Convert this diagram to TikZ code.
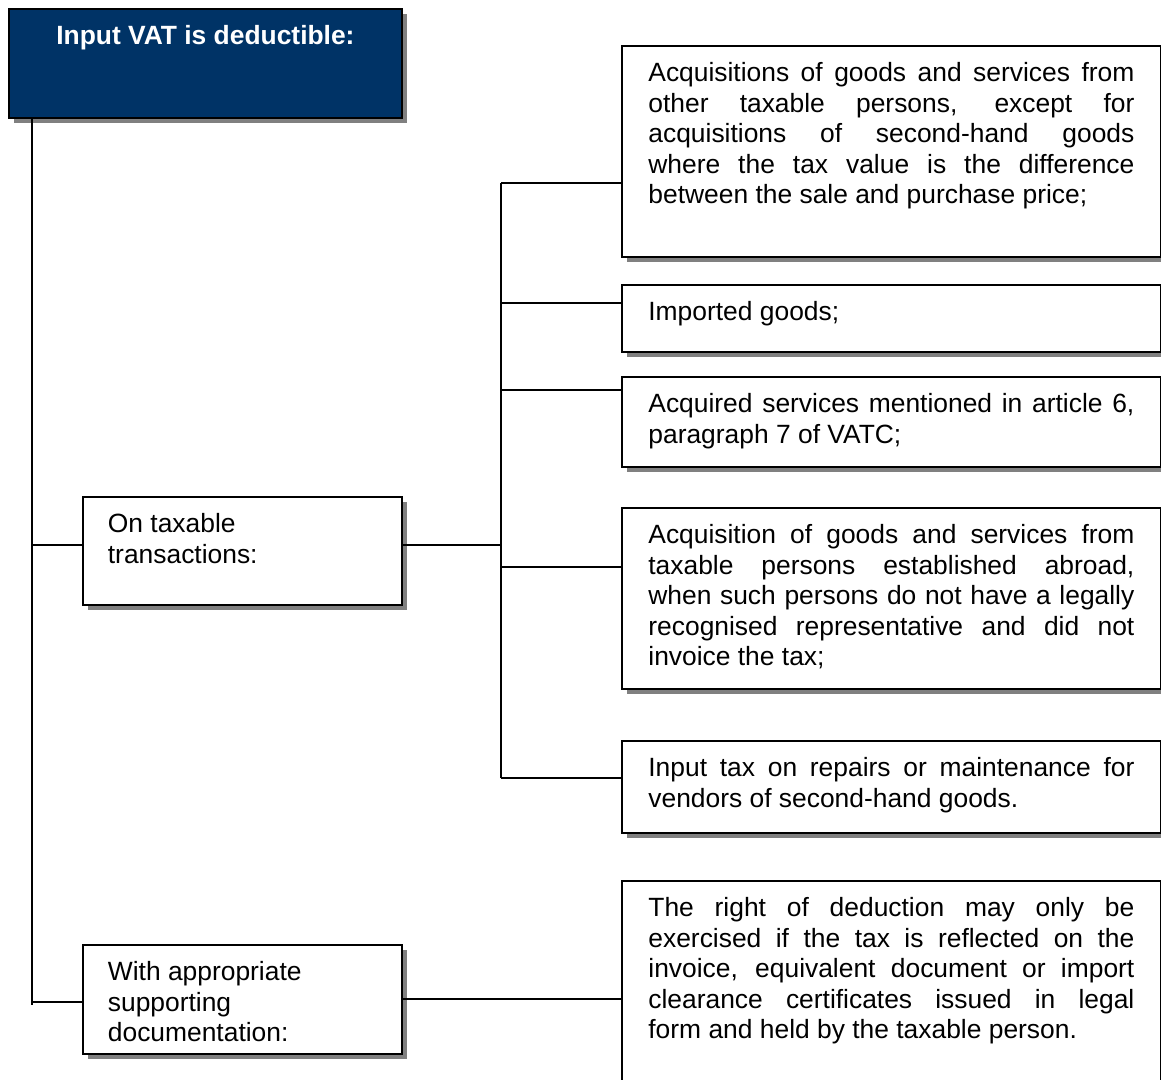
\documentclass[tikz,border=0pt]{standalone}
\usepackage{fontspec}
\setmainfont{Liberation Sans}
\usetikzlibrary{shadows}
\definecolor{navy}{RGB}{0,51,102}
\tolerance=10000
\hbadness=10000
\hfuzz=3pt
\newcommand{\boxfont}{\fontsize{26.4pt}{30.5pt}\selectfont}
% top-aligned text block of a given height and width
\newcommand{\topblock}[3]{\parbox[c][#1][t]{#2}{\vspace*{14.5pt}\strut #3}}
\begin{document}
\begin{tikzpicture}[x=1pt,y=-1pt,
  shade/.style={drop shadow={shadow xshift=5pt,shadow yshift=-5pt,fill=black!50,opacity=1}},
  headbox/.style={draw=black,line width=1.8pt,fill=navy,text=white,font=\boxfont\bfseries,
    anchor=north west,inner sep=0pt,shade},
  itembox/.style={draw=black,line width=1.8pt,fill=white,font=\boxfont,
    anchor=north west,inner xsep=26.5pt,inner ysep=0pt,shade},
  catbox/.style={draw=black,line width=1.8pt,fill=white,font=\boxfont,
    anchor=north west,inner xsep=25pt,inner ysep=0pt,shade},
  conn/.style={line width=1.8pt,draw=black}]
\useasboundingbox (0,0) rectangle (1161,1079);

% heading
\node[headbox] (head) at (8,8)
  {\parbox[c][109pt][t]{393pt}{\vspace*{14.5pt}\centering\strut Input VAT is deductible:}};

% categories
\node[catbox] (ltax) at (82,496)
  {\parbox[c][108pt][t]{269pt}{\raggedright\vspace*{14.5pt}\strut On taxable\\transactions:}};
\node[catbox] (ldoc) at (82,944)
  {\parbox[c][109pt][t]{269pt}{\raggedright\vspace*{14.5pt}\strut With appropriate\\supporting\\documentation:}};

% items
\node[itembox] (r1) at (621,45) {\topblock{211pt}{486pt}{Acquisitions of goods and services from\linebreak
  other taxable persons, except for\linebreak
  acquisitions of second-hand goods\linebreak
  where the tax value is the difference\linebreak
  between the sale and purchase price;}};
\node[itembox] (r2) at (621,284) {\topblock{67pt}{486pt}{Imported goods;}};
\node[itembox] (r3) at (621,376) {\topblock{90pt}{486pt}{Acquired services mentioned in article 6,\linebreak
  paragraph 7 of VATC;}};
\node[itembox] (r4) at (621,507) {\topblock{181pt}{486pt}{Acquisition of goods and services from\linebreak
  taxable persons established abroad,\linebreak
  when such persons do not have a legally\linebreak
  recognised representative and did not\linebreak
  invoice the tax;}};
\node[itembox] (r5) at (621,740) {\topblock{92pt}{486pt}{Input tax on repairs or maintenance for\linebreak
  vendors of second-hand goods.}};
\node[itembox] (r6) at (621,880) {\topblock{215pt}{486pt}{The right of deduction may only be\linebreak
  exercised if the tax is reflected on the\linebreak
  invoice, equivalent document or import\linebreak
  clearance certificates issued in legal\linebreak
  form and held by the taxable person.}};

% trunk on the left
\coordinate (tk) at (32,0);
\coordinate (tkEnd) at (32,1005);
\coordinate (bTax) at (32,545);
\coordinate (bDoc) at (32,1002);
\draw[conn] (head.south -| tk) -- (tkEnd);
\draw[conn] (bTax) -- (bTax -| ltax.west);
\draw[conn] (bDoc) -- (bDoc -| ldoc.west);

% branch to the taxable-transaction items
\coordinate (sp) at (501,0);
\coordinate (spTop) at (501,183);
\coordinate (spBot) at (501,778);
\coordinate (jTax) at (501,545);
\draw[conn] (ltax.east |- jTax) -- (jTax);
\draw[conn] (spTop) -- (spBot);
\draw[conn] (spTop) -- (spTop -| r1.west);
\coordinate (j2) at (501,303);
\coordinate (j3) at (501,390);
\coordinate (j4) at (501,567);
\draw[conn] (j2) -- (j2 -| r2.west);
\draw[conn] (j3) -- (j3 -| r3.west);
\draw[conn] (j4) -- (j4 -| r4.west);
\draw[conn] (spBot) -- (spBot -| r5.west);

% documentation link
\coordinate (jDoc) at (401,999);
\draw[conn] (jDoc -| ldoc.east) -- (jDoc -| r6.west);
\end{tikzpicture}
\end{document}
